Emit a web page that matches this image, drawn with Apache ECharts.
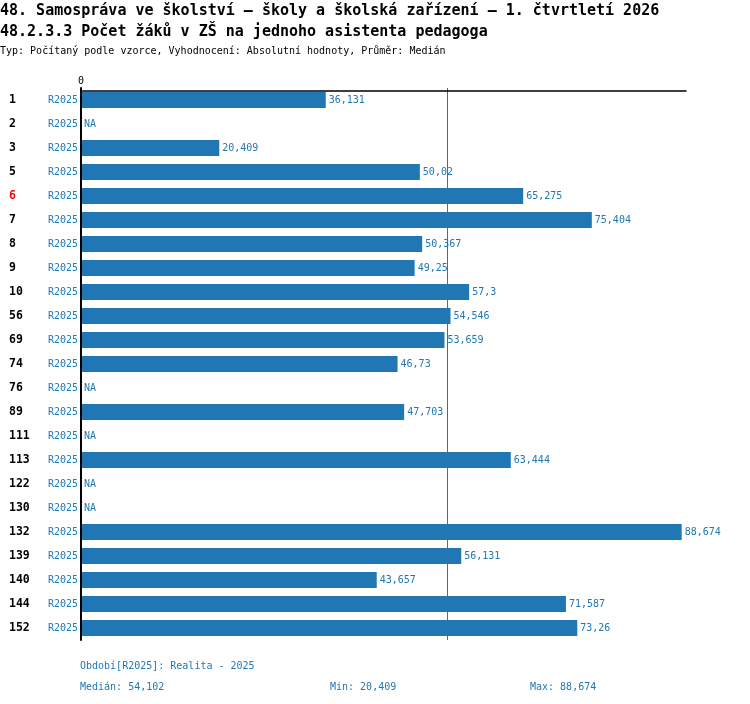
<!DOCTYPE html>
<html>
<head>
<meta charset="utf-8">
<script src="https://cdn.jsdelivr.net/npm/echarts@6/dist/echarts.min.js"></script>
<style>
  html, body { margin: 0; padding: 0; background: #fff; }
  #main { width: 750px; height: 704px; }
</style>
</head>
<body>
<div id="main"></div>
<script>
// kategorie (obce) a hodnoty pro obdobi R2025, null = NA
var categories = ['1', '2', '3', '5', '6', '7', '8', '9', '10', '56', '69', '74', '76', '89',
    '111', '113', '122', '130', '132', '139', '140', '144', '152'];
var values = [36.131, null, 20.409, 50.02, 65.275, 75.404, 50.367, 49.25, 57.3, 54.546,
    53.659, 46.73, null, 47.703, null, 63.444, null, null, 88.674, 56.131, 43.657, 71.587, 73.26];
var period = 'R2025';
var highlighted = '6';
var median = 54.102;
var stats = [['Medián', '54,102'], ['Min', '20,409'], ['Max', '88,674']];

var blue = '#1f77b4';
var mono = "'DejaVu Sans Mono', monospace";

function fmt(v) {
    return String(v).replace('.', ',');
}

function txt(text, left, top, size, weight, color) {
    return {
        text: text,
        left: left,
        top: top,
        padding: 0,
        textStyle: {fontFamily: mono, fontSize: size, fontWeight: weight, color: color}
    };
}

var seriesData = values.map(function (v) {
    if (v === null) {
        return {value: 0, label: {formatter: 'NA'}};
    }
    return v;
});

option = {
    backgroundColor: '#fff',
    animation: false,
    title: [
        txt('48. Samospráva ve školství – školy a školská zařízení – 1. čtvrtletí 2026', 0, 4, 15, 'bold', '#000'),
        txt('48.2.3.3 Počet žáků v ZŠ na jednoho asistenta pedagoga', 0, 25, 15, 'bold', '#000'),
        txt('Typ: Počítaný podle vzorce, Vyhodnocení: Absolutní hodnoty, Průměr: Medián', 0, 46, 10, 'normal', '#000'),
        txt('Období[' + period + ']: Realita - 2025', 80, 661, 10, 'normal', blue),
        txt(stats[0][0] + ': ' + stats[0][1], 80, 682, 10, 'normal', blue),
        txt(stats[1][0] + ': ' + stats[1][1], 330, 682, 10, 'normal', blue),
        txt(stats[2][0] + ': ' + stats[2][1], 530, 682, 10, 'normal', blue)
    ],
    grid: {
        left: 81,
        right: 64,
        top: 88,
        height: 552,
        containLabel: false
    },
    xAxis: {
        type: 'value',
        position: 'top',
        min: 0,
        max: 89.31,
        interval: 100,
        offset: -3,
        z: 10,
        splitLine: {show: false},
        axisTick: {show: false},
        axisLine: {show: true, lineStyle: {color: '#000', width: 1.5}},
        axisLabel: {
            showMaxLabel: false,
            margin: 5,
            fontFamily: mono,
            fontSize: 10,
            color: '#000'
        }
    },
    yAxis: {
        type: 'category',
        inverse: true,
        data: categories,
        z: 10,
        axisTick: {show: false},
        axisLine: {show: true, lineStyle: {color: '#000', width: 2}},
        axisLabel: {
            margin: 3,
            formatter: function (val) {
                var style = val === highlighted ? 'r' : 'c';
                return '{' + style + '|' + val + '}{p|' + period + '}';
            },
            rich: {
                c: {width: 37, align: 'left', fontFamily: mono, fontSize: 11.5, fontWeight: 'bold', color: '#000'},
                r: {width: 37, align: 'left', fontFamily: mono, fontSize: 11.5, fontWeight: 'bold', color: '#f00'},
                p: {width: 32, align: 'right', fontFamily: mono, fontSize: 10, color: blue}
            }
        }
    },
    series: [
        {
            name: period,
            type: 'bar',
            data: seriesData,
            barWidth: 16,
            itemStyle: {color: blue},
            label: {
                show: true,
                position: 'right',
                distance: 3,
                fontFamily: mono,
                fontSize: 10,
                color: blue,
                formatter: function (p) {
                    return fmt(p.value);
                }
            },
            markLine: {
                silent: true,
                symbol: 'none',
                label: {show: false},
                lineStyle: {color: blue, width: 1, type: 'solid', opacity: 1},
                emphasis: {disabled: true},
                data: [{xAxis: median}]
            }
        }
    ]
};

var myChart = echarts.init(document.getElementById('main'));
myChart.setOption(option);
</script>
</body>
</html>
